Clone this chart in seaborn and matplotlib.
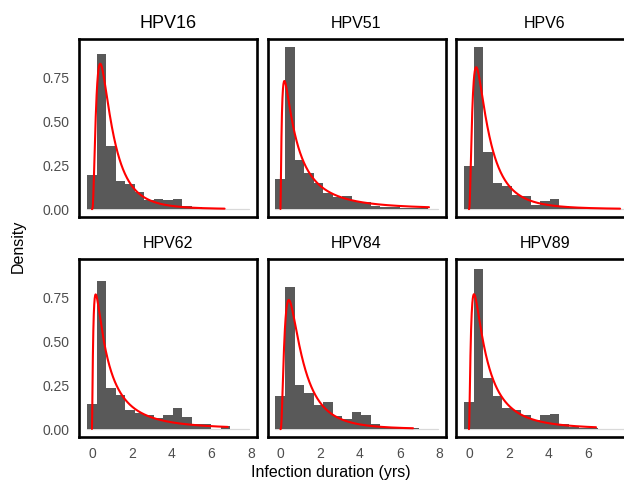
import numpy as np
import pandas as pd
import matplotlib
matplotlib.use("Agg")
import matplotlib.pyplot as plt
import seaborn as sns

# HPV types, one panel each
hpv_types = ["HPV16", "HPV51", "HPV6", "HPV62", "HPV84", "HPV89"]
title_sizes = [13, 11.5, 11.5, 11.5, 11.5, 11.5]

# Shared histogram binning (years)
bin_start = -0.25
bin_width = 0.48
n_bins = 17

# Histogram densities per bin
dens_hpv16 = [0.196, 0.888, 0.361, 0.159, 0.142, 0.097, 0.051, 0.057, 0.051,
              0.057, 0.017, 0.011, 0.006, 0.004, 0.002, 0.0, 0.0]
dens_hpv51 = [0.171, 0.930, 0.279, 0.205, 0.152, 0.091, 0.070, 0.076, 0.046,
              0.040, 0.017, 0.011, 0.011, 0.006, 0.004, 0.004, 0.002]
dens_hpv6 = [0.247, 0.930, 0.327, 0.148, 0.133, 0.082, 0.076, 0.023, 0.046,
             0.057, 0.017, 0.011, 0.006, 0.004, 0.004, 0.002, 0.0]
dens_hpv62 = [0.142, 0.849, 0.233, 0.194, 0.108, 0.091, 0.082, 0.063, 0.082,
              0.120, 0.068, 0.028, 0.028, 0.002, 0.017, 0.0, 0.0]
dens_hpv84 = [0.190, 0.811, 0.251, 0.209, 0.137, 0.154, 0.076, 0.057, 0.097,
              0.082, 0.030, 0.013, 0.008, 0.006, 0.004, 0.0, 0.0]
dens_hpv89 = [0.156, 0.917, 0.290, 0.190, 0.120, 0.108, 0.082, 0.051, 0.082,
              0.087, 0.030, 0.013, 0.008, 0.006, 0.0, 0.0, 0.0]
densities = [dens_hpv16, dens_hpv51, dens_hpv6, dens_hpv62, dens_hpv84, dens_hpv89]

# Fitted log-normal duration distributions
meanlog = [-0.20, -0.05, -0.20, -0.10, -0.10, -0.15]
sdlog = [0.82, 1.25, 0.90, 1.25, 0.875, 1.10]
curve_end = [6.67, 7.47, 7.60, 6.83, 6.67, 6.39]

x_ticks = [0, 2, 4, 6, 8]
y_ticks = [0.00, 0.25, 0.50, 0.75]
y_tick_labels = ["0.00", "0.25", "0.50", "0.75"]

sns.set_theme(style="white")
plt.rcParams["font.family"] = ["Liberation Sans", "DejaVu Sans"]

W, H = 624, 482
fig = plt.figure(figsize=(W / 100, H / 100), dpi=100)

col_left = [79, 267.5, 456]
row_top = [39, 259]
pw, ph = 178, 178

edges = bin_start + bin_width * np.arange(n_bins + 1)
centers = (edges[:-1] + edges[1:]) / 2


def lognorm_pdf(x, mu, s):
    return np.exp(-(np.log(x) - mu) ** 2 / (2 * s ** 2)) / (x * s * np.sqrt(2 * np.pi))


for i, name in enumerate(hpv_types):
    r, c = divmod(i, 3)
    ax = fig.add_axes([col_left[c] / W, 1 - (row_top[r] + ph) / H, pw / W, ph / H])

    # light baseline for empty bins
    ax.plot([edges[0], edges[-1]], [0, 0], color="#d9d9d9", lw=0.9, zorder=1)

    hist_df = pd.DataFrame({"duration": centers, "density": densities[i]})
    sns.histplot(data=hist_df, x="duration", weights="density",
                 bins=[float(e) for e in edges],
                 stat="count", color="#595959", alpha=1, linewidth=0,
                 ax=ax, zorder=2)

    xs = np.linspace(0.002, curve_end[i], 600)
    curve_df = pd.DataFrame({"duration": xs,
                             "density": lognorm_pdf(xs, meanlog[i], sdlog[i])})
    sns.lineplot(data=curve_df, x="duration", y="density", color="#ff0000",
                 lw=1.5, ax=ax, zorder=3)

    ax.set_xlim(-0.65, 8.3)
    ax.set_ylim(-0.045, 0.973)
    ax.set_xlabel("")
    ax.set_ylabel("")
    for sp in ax.spines.values():
        sp.set_visible(True)
        sp.set_color("black")
        sp.set_linewidth(1.9)

    ax.set_xticks(x_ticks)
    ax.set_yticks(y_ticks)
    ax.tick_params(axis="both", direction="out", length=2.5, width=0.8,
                   color="#333333", labelcolor="#4d4d4d", labelsize=10, pad=4)
    if c == 0:
        ax.set_yticklabels(y_tick_labels)
    else:
        ax.tick_params(axis="y", left=False, labelleft=False)
    if r == 1:
        ax.set_xticklabels([str(t) for t in x_ticks])
        ax.tick_params(axis="x", pad=5)
    else:
        ax.tick_params(axis="x", bottom=False, labelbottom=False)

    ax.set_title(name, fontsize=title_sizes[i], color="black", pad=8)

fig.text(331 / W, 1 - 473 / H, "Infection duration (yrs)",
         ha="center", va="center", fontsize=11.5, color="black")
fig.text(18 / W, 1 - 246 / H, "Density", rotation=90,
         ha="center", va="center", fontsize=11.5, color="black")

fig.savefig("out.png", dpi=100)
